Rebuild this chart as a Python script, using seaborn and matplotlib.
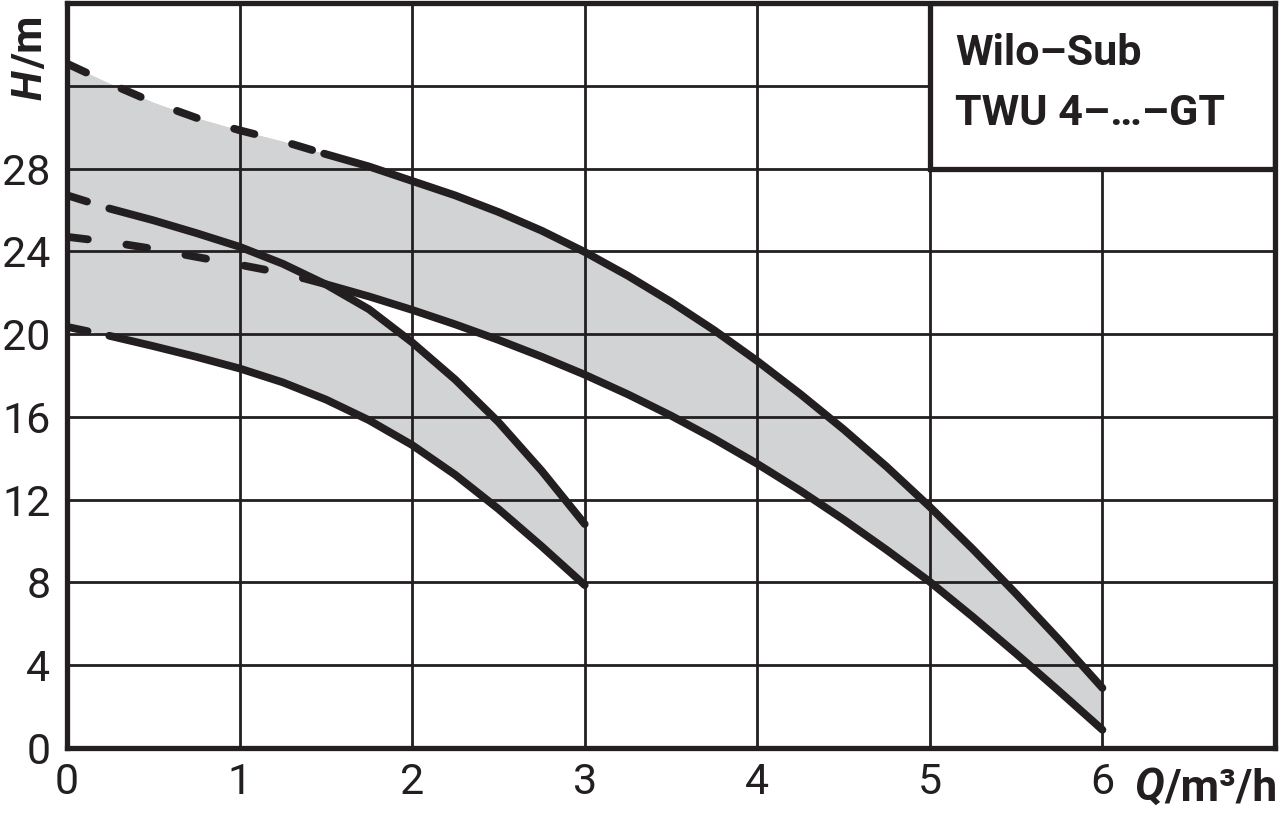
import matplotlib
matplotlib.use("Agg")
import matplotlib.pyplot as plt
import seaborn as sns
import numpy as np
import pandas as pd

# ---- data ----
x_ticks = [0, 1, 2, 3, 4, 5, 6, 7]
x_tick_labels = ["0", "1", "2", "3", "4", "5", "6", ""]
y_ticks = [0, 4, 8, 12, 16, 20, 24, 28, 32]
y_tick_labels = ["0", "4", "8", "12", "16", "20", "24", "28", ""]

# small pump (up to 3 m3/h): max and min curves
q_m1u = [0, 0.245, 0.5, 0.75, 1, 1.25, 1.5, 1.75, 2, 2.25, 2.5, 2.75, 3]
h_m1u = [26.71, 26.07, 25.5, 24.88, 24.22, 23.4, 22.4, 21.2, 19.6, 17.8, 15.75, 13.4, 10.82]
q_m1l = [0, 0.245, 0.5, 0.75, 1, 1.25, 1.5, 1.75, 2, 2.25, 2.5, 2.75, 3]
h_m1l = [20.35, 19.92, 19.42, 18.9, 18.34, 17.67, 16.84, 15.84, 14.64, 13.2, 11.55, 9.75, 7.87]
# large pump (up to 6 m3/h): max and min curves
q_m2u = [0, 0.25, 0.5, 0.75, 1, 1.25, 1.49, 1.75, 2, 2.25, 2.5, 2.75, 3,
         3.25, 3.5, 3.75, 4, 4.25, 4.5, 4.75, 5, 5.25, 5.5, 5.75, 6]
h_m2u = [33.07, 32.1, 31.2, 30.45, 29.85, 29.32, 28.72, 28.1, 27.4, 26.7, 25.9, 25.0, 23.97,
         22.82, 21.56, 20.19, 18.7, 17.1, 15.4, 13.59, 11.65, 9.6, 7.45, 5.22, 2.9]
q_m2l = [0, 0.25, 0.5, 0.75, 1, 1.25, 1.37, 1.5, 1.75, 2, 2.25, 2.5, 2.75, 3,
         3.25, 3.5, 3.75, 4, 4.25, 4.5, 4.75, 5, 5.25, 5.5, 5.75, 6]
h_m2l = [24.7, 24.45, 24.12, 23.73, 23.35, 22.95, 22.7, 22.41, 21.82, 21.17, 20.47, 19.72, 18.91,
         18.04, 17.09, 16.06, 14.94, 13.73, 12.43, 11.04, 9.57, 8.03, 6.33, 4.56, 2.74, 0.88]

# flow where the dashed (unstable) part of each curve ends
dash_end_m1u = 0.245
dash_end_m1l = 0.245
dash_end_m2u = 1.49
dash_end_m2l = 1.37

title_lines = ["Wilo–Sub", "TWU 4–…–GT"]

# ---- style ----
sns.set_theme(style="white")
plt.rcParams["font.family"] = ["Roboto", "DejaVu Sans"]

INK = "#231f20"
FILL = "#d1d3d4"
FS = 31

fig = plt.figure(figsize=(12.8, 8.13), dpi=100)
W, H = 1280, 813
ax = fig.add_axes([67 / W, 1 - 748 / H, (1275 - 67) / W, (748 - 3) / H])
ax.set_xlim(0, 7)
ax.set_ylim(0, 36)

# shaded operating ranges
ax.fill_between(q_m2u, np.interp(q_m2u, q_m2l, h_m2l), h_m2u, color=FILL, lw=0, zorder=1)
ax.fill_between(q_m2l, h_m2l, np.interp(q_m2l, q_m2u, h_m2u), color=FILL, lw=0, zorder=1)
ax.fill_between(q_m1u, h_m1l, h_m1u, color=FILL, lw=0, zorder=1)

LW = 5.6
def draw_curve(q, h, dash_end):
    df = pd.DataFrame({"Q": q, "H": h})
    dpart = df[df["Q"] <= dash_end]
    spart = df[df["Q"] >= dash_end]
    if len(dpart) >= 2:
        sns.lineplot(data=dpart, x="Q", y="H", ax=ax, color=INK, sort=False, zorder=3)
        ln = ax.lines[-1]
        ln.set_linewidth(LW)
        ln.set_linestyle((0, (2.7, 5.0)))
        ln.set_dash_capstyle("round")
    sns.lineplot(data=spart, x="Q", y="H", ax=ax, color=INK, sort=False, zorder=3)
    ln = ax.lines[-1]
    ln.set_linewidth(LW)
    ln.set_solid_capstyle("round")
    ln.set_solid_joinstyle("round")

draw_curve(q_m1u, h_m1u, dash_end_m1u)
draw_curve(q_m1l, h_m1l, dash_end_m1l)
draw_curve(q_m2u, h_m2u, dash_end_m2u)
draw_curve(q_m2l, h_m2l, dash_end_m2l)

# grid
ax.set_xticks(x_ticks)
ax.set_xticklabels(x_tick_labels)
ax.set_yticks(y_ticks)
ax.set_yticklabels(y_tick_labels)
ax.grid(True, color=INK, lw=2.0)
ax.set_axisbelow("line")
for gl in ax.get_xgridlines() + ax.get_ygridlines():
    gl.set_zorder(2)
ax.tick_params(axis="both", length=0, labelsize=FS, colors=INK)
ax.tick_params(axis="y", pad=12)
ax.tick_params(axis="x", pad=10)
ax.set_xlabel("")
ax.set_ylabel("")
for s in ax.spines.values():
    s.set_visible(True)
    s.set_color(INK)
    s.set_linewidth(3.8)
    s.set_zorder(5)

# title box
ax.add_patch(plt.Rectangle((5, 28), 2, 8, facecolor="white", edgecolor=INK, lw=3.8, zorder=4))
fig.text(955 / W, 1 - 65 / H, title_lines[0], fontsize=FS, fontweight="bold", color=INK,
         ha="left", va="baseline")
fig.text(955 / W, 1 - 125 / H, title_lines[1], fontsize=FS, fontweight="bold", color=INK,
         ha="left", va="baseline")

# axis labels built from two text pieces each
fig.canvas.draw()
r = fig.canvas.get_renderer()
t1 = fig.text(1278 / W, 1 - 800 / H, "/m³/h", fontsize=FS + 1, fontweight="bold", color=INK,
              ha="right", va="baseline")
bb = t1.get_window_extent(r)
fig.text((bb.x0 - 1) / W, 1 - 800 / H, "Q", fontsize=FS + 1, fontweight="bold", style="italic",
         color=INK, ha="right", va="baseline")

th = fig.text(42 / W, 1 - 100 / H, "H", fontsize=FS, fontweight="bold", style="italic",
              color=INK, rotation=90, rotation_mode="anchor", ha="left", va="baseline")
bbh = th.get_window_extent(r)
fig.text(42 / W, (bbh.y1 + 1) / H, "/m", fontsize=FS, fontweight="bold", color=INK,
         rotation=90, rotation_mode="anchor", ha="left", va="baseline")

fig.savefig("out.png", dpi=100)
